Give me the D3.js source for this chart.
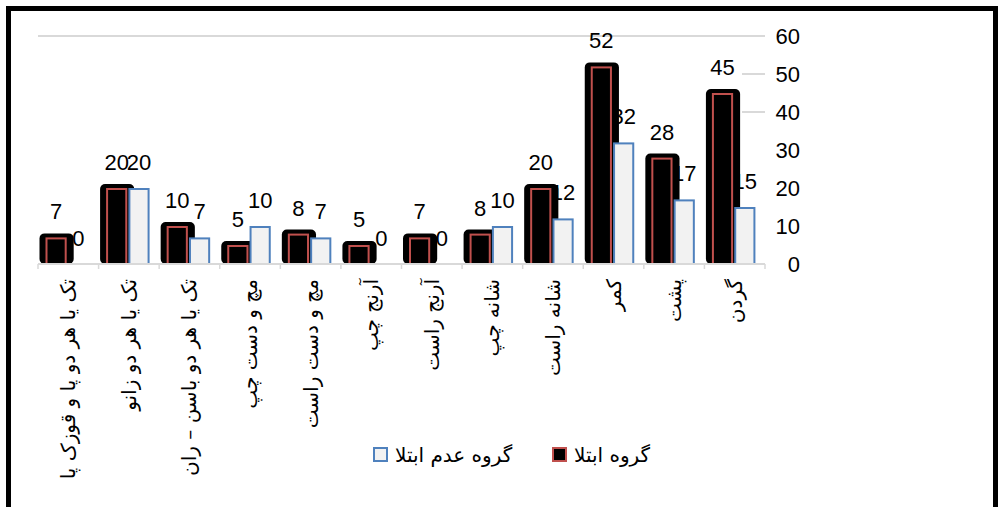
<!DOCTYPE html>
<html>
<head>
<meta charset="utf-8">
<script src="https://cdn.jsdelivr.net/npm/d3@7"></script>
<style>
  html, body { margin: 0; padding: 0; background: #fff; }
  svg { display: block; }
</style>
</head>
<body>
<svg id="chart" width="1000" height="507"></svg>
<script>
// Categories in the chart's own (right-to-left) order: first category is drawn at the right
const categories = ["گردن", "پشت", "کمر", "شانه راست", "شانه چپ", "آرنج راست", "آرنج چپ",
  "مچ و دست راست", "مچ و دست چپ", "تک یا هر دو باسن – ران", "تک یا هر دو زانو", "تک یا هر دو پا و قوزک پا"];
const affected    = [45, 28, 52, 20, 8, 7, 5, 8, 5, 10, 20, 7];
const notAffected = [15, 17, 32, 12, 10, 0, 0, 7, 10, 7, 20, 0];
const yTicks = [0, 10, 20, 30, 40, 50, 60];
const seriesNames = ["گروه ابتلا", "گروه عدم ابتلا"];
const seriesKeys = ["a", "n"];

const svg = d3.select("#chart");
const numFont = "'Liberation Sans', Arial, sans-serif";
const faFont = "'DejaVu Sans', sans-serif";

const plot = { left: 38, right: 765, top: 36, bottom: 264 };

const x0 = d3.scaleBand().domain(categories).range([plot.right, plot.left]).padding(0);
const x1 = d3.scaleBand().domain(seriesKeys).range([7.5, 51]).paddingInner(0.05);
const y = d3.scaleLinear().domain([0, 60]).range([plot.bottom, plot.top]);

const rows = categories.map((c, i) => ({ cat: c, a: affected[i], n: notAffected[i] }));

// outer frame
svg.append("rect")
  .attr("x", 8.5).attr("y", 8.5).attr("width", 987).attr("height", 520)
  .attr("fill", "#fff").attr("stroke", "#000").attr("stroke-width", 5);

// gridlines (only the top one spans the plot in the reference)
svg.append("line")
  .attr("x1", plot.left).attr("x2", plot.right)
  .attr("y1", y(60)).attr("y2", y(60))
  .attr("stroke", "#d9d9d9").attr("stroke-width", 2);
svg.selectAll("line.gridpart").data([50, 40]).join("line")
  .attr("class", "gridpart")
  .attr("x1", 742).attr("x2", plot.right)
  .attr("y1", d => y(d)).attr("y2", d => y(d))
  .attr("stroke", "#d9d9d9").attr("stroke-width", 2);

// y axis (right side, labels only)
const yAxis = d3.axisRight(y).tickValues(yTicks).tickSize(0).tickPadding(0);
const yg = svg.append("g").attr("transform", `translate(800,0)`).call(yAxis);
yg.select(".domain").remove();
yg.selectAll("text")
  .attr("x", 0)
  .attr("text-anchor", "end")
  .attr("font-family", numFont).attr("font-size", 22).attr("fill", "#000");

// data labels (drawn before the bars so the glow covers them, as in the reference)
const groups = svg.append("g");
rows.forEach(r => {
  const gx = x0(r.cat);
  seriesKeys.forEach(k => {
    groups.append("text")
      .attr("x", gx + x1(k) + x1.bandwidth() / 2)
      .attr("y", y(r[k]) - 18)
      .attr("text-anchor", "middle")
      .attr("font-family", numFont).attr("font-size", 22).attr("fill", "#000")
      .text(r[k]);
  });
});

// bars
const bars = svg.append("g");
rows.forEach(r => {
  const gx = x0(r.cat);
  const ax = gx + x1("a");
  const bw = x1.bandwidth();
  // black glow around affected bar
  bars.append("rect")
    .attr("x", ax - 6).attr("y", y(r.a) - 4)
    .attr("width", bw + 13).attr("height", plot.bottom - y(r.a) + 4)
    .attr("rx", 5).attr("fill", "#000");
  bars.append("rect")
    .attr("x", ax + 1).attr("y", y(r.a) + 1)
    .attr("width", bw - 2).attr("height", Math.max(0, plot.bottom - y(r.a) - 1))
    .attr("fill", "#000").attr("stroke", "#c0504d").attr("stroke-width", 2);
  const nx = gx + x1("n");
  if (r.n > 0) {
    bars.append("rect")
      .attr("x", nx + 1).attr("y", y(r.n) + 1)
      .attr("width", bw - 2).attr("height", Math.max(0, plot.bottom - y(r.n) - 1))
      .attr("fill", "#f2f2f2").attr("stroke", "#4f81bd").attr("stroke-width", 2);
  }
});

// category axis line and ticks
svg.append("line")
  .attr("x1", plot.left).attr("x2", plot.right)
  .attr("y1", plot.bottom).attr("y2", plot.bottom)
  .attr("stroke", "#d9d9d9").attr("stroke-width", 2);
const bounds = categories.map(c => x0(c)).concat([plot.right]);
svg.selectAll("line.ctick").data(bounds).join("line")
  .attr("class", "ctick")
  .attr("x1", d => d).attr("x2", d => d)
  .attr("y1", plot.bottom).attr("y2", plot.bottom + 5)
  .attr("stroke", "#d9d9d9").attr("stroke-width", 1.5);

// category labels, rotated
svg.selectAll("text.cat").data(categories).join("text")
  .attr("class", "cat")
  .attr("transform", d => `translate(${x0(d) + x0.bandwidth() / 2},279) rotate(-90)`)
  .attr("text-anchor", "end")
  .attr("dominant-baseline", "central")
  .attr("font-family", faFont).attr("font-size", 20).attr("fill", "#000")
  .text(d => d);

// legend
const legend = [
  { name: seriesNames[0], fill: "#000", stroke: "#c0504d", mx: 552 },
  { name: seriesNames[1], fill: "#f2f2f2", stroke: "#4f81bd", mx: 373 }
];
legend.forEach(l => {
  svg.append("rect")
    .attr("x", l.mx + 1).attr("y", 448).attr("width", 13).attr("height", 13)
    .attr("fill", l.fill).attr("stroke", l.stroke).attr("stroke-width", 2);
  svg.append("text")
    .attr("x", l.mx + 22).attr("y", 455)
    .attr("dominant-baseline", "central")
    .attr("font-family", faFont).attr("font-size", 20).attr("fill", "#000")
    .text(l.name);
});
</script>
</body>
</html>
